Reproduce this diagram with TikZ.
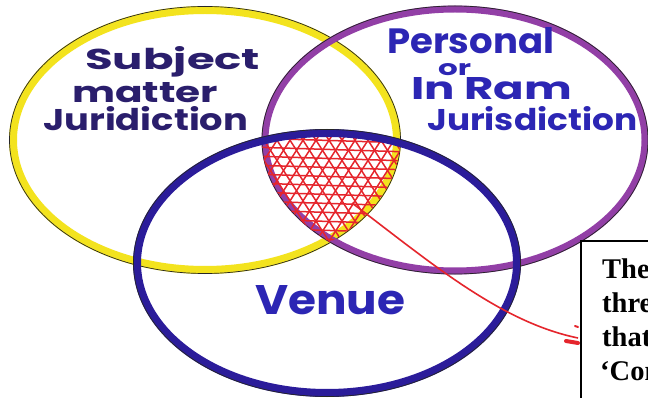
\documentclass[tikz,border=0pt]{standalone}
\usepackage{fontspec}
\usepackage{graphicx}
\newfontfamily\handfont{Poppins}
\newfontfamily\notefont{Liberation Serif}
\definecolor{yel}{HTML}{F3E31E}
\definecolor{purp}{HTML}{923FA6}
\definecolor{blu}{HTML}{2B1C9A}
\definecolor{navyink}{HTML}{2A1E6C}
\definecolor{blueink}{HTML}{2C26B4}
\definecolor{redc}{HTML}{E5252C}
\newcommand{\hw}[3]{\resizebox{#1pt}{#2pt}{\handfont\bfseries #3}}
\begin{document}
\begin{tikzpicture}[x=1pt,y=-1pt,
  hand/.style={anchor=base west, inner sep=0pt},
  edge/.style={black!85, line width=0.7pt},
  hatchline/.style={redc, line width=1.5pt},
  notetext/.style={anchor=base west, inner sep=0pt, font=\notefont\bfseries\fontsize{28.5}{34}\selectfont}]
\useasboundingbox (0,0) rectangle (648,398);
\clip (0,0) rectangle (648,398);
\fill[white] (0,0) rectangle (648,398);
% Subject matter circle (yellow)
\draw[yel, line width=8pt] (205,140) ellipse [x radius=192, y radius=130];
\draw[edge] (205,140) ellipse [x radius=195.5, y radius=133.5];
% Personal circle (purple)
\draw[purp, line width=7pt] (455,140) ellipse [x radius=190, y radius=131];
\draw[edge] (455,140) ellipse [x radius=193, y radius=134];
% hatch in the common part
\begin{scope}
  \clip (205,140) ellipse [x radius=195, y radius=133];
  \clip (455,140) ellipse [x radius=193, y radius=134];
  \clip (327,263) ellipse [x radius=190, y radius=130];
  \foreach \y in {138,147,...,258} \draw[hatchline] (250,\y) -- (410,\y+5);
  \foreach \s in {160,173,...,470} {
    \draw[hatchline] (\s,120) -- (\s+90,260);
    \draw[hatchline] (\s,120) -- (\s-90,260);
  }
\end{scope}
% Venue circle (blue)
\draw[blu, line width=8pt] (327,263) ellipse [x radius=190, y radius=130];
\draw[edge] (327,263) ellipse [x radius=193.5, y radius=133.5];
% handwritten labels
\node[hand, text=navyink] (s1) at (85,70) {\hw{175}{23}{Subject}};
\node[hand, text=navyink] (s2) at (72,103) {\hw{146}{20}{matter}};
\node[hand, text=navyink] (s3) at (43,131) {\hw{205}{24}{Juridiction}};
\node[hand, text=blueink] (p1) at (387,54) {\hw{167}{26}{Personal}};
\node[hand, text=blueink] (p2) at (438,76) {\hw{33}{12}{or}};
\node[hand, text=blueink] (p3) at (411,100) {\hw{161}{22}{In Ram}};
\node[hand, text=blueink] (p4) at (427,131) {\hw{210}{24}{Jurisdiction}};
\node[hand, text=blueink] (v1) at (255,314) {\hw{150}{29}{Venue}};
% note box
\node[draw, line width=2pt, anchor=north west, minimum width=120pt, minimum height=194pt, inner sep=0pt] (note) at (580,240) {};
\node[notetext] (n1) at (602,278) {The};
\node[notetext] (n2) at (602,312) {three};
\node[notetext] (n3) at (602,346) {that};
\node[notetext] (n4) at (600,380) {‘Con};
% red pointer
\coordinate (hatchc) at (352,203);
\draw[redc, line width=1.6pt] (hatchc) .. controls (430,262) and (500,322) .. ([xshift=-2pt]note.west);
\draw[redc, line width=4pt, line cap=round] (566,341) -- (578,343);
\draw[redc, line width=2pt, line cap=round] (575,326) -- (578,327);
\end{tikzpicture}
\end{document}
